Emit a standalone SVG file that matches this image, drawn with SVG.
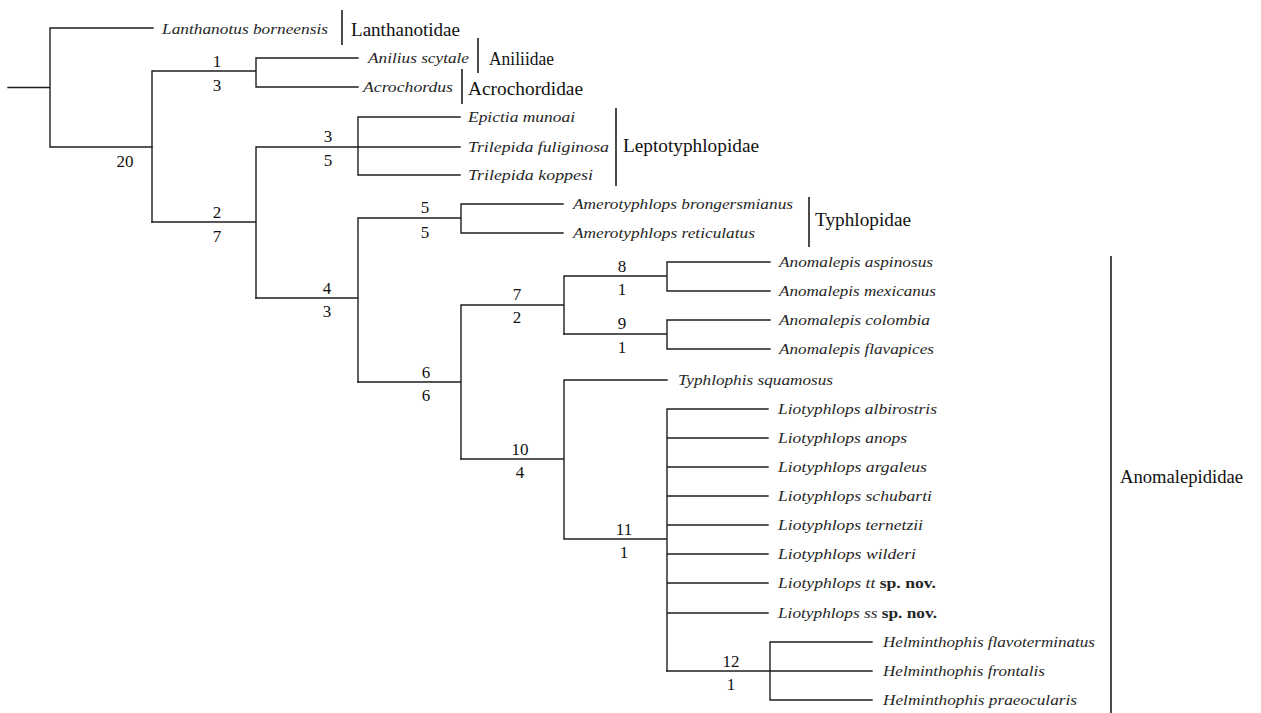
<svg xmlns="http://www.w3.org/2000/svg" width="1261" height="713" viewBox="0 0 1261 713">
<style>
.br{fill:none;stroke:#1e1e1e;stroke-width:1.4;stroke-linecap:square}
.bar{stroke:#1e1e1e;stroke-width:1.6}
.sp{font-family:"Liberation Serif","Times New Roman",serif;font-style:italic;font-size:15px;fill:#262626}
.fam{font-family:"Liberation Serif","Times New Roman",serif;font-size:18px;fill:#111}
.num{font-family:"Liberation Serif","Times New Roman",serif;font-size:17px;fill:#111;text-anchor:middle}
.nov{font-style:normal;font-weight:bold}
</style>
<rect width="1261" height="713" fill="#fff"/>
<g id="connectors" class="br">
<path d="M8,87.5H50M50,28V147M50,28H153M50,147H152"/>
<path d="M152,71V222M152,71H256M256,58V87M256,58H358M256,87H358"/>
<path d="M152,222H256M256,147V298M256,147H358M358,117V175M358,117H460M358,147H460M358,175H460"/>
<path d="M256,298H358M358,218V382M358,218H461M461,204V233M461,204H563M461,233H563"/>
<path d="M358,382H461M461,305V459M461,305H564M564,276V334M564,276H667M667,262V291M667,262H770M667,291H770"/>
<path d="M564,334H667M667,320V349M667,320H770M667,349H770"/>
<path d="M461,459H564M564,380V539M564,380H667M564,539H667M667,409V671M667,409H768M667,438H768M667,467H768M667,496H768M667,525H768M667,554H768M667,583H768M667,613H768"/>
<path d="M667,671H770M770,642V700M770,642H872M770,671H872M770,700H872"/>
</g>
<g id="support-values">
<text class="num" x="125" y="167">20</text>
<text class="num" x="217" y="67">1</text><text class="num" x="217" y="91">3</text>
<text class="num" x="217" y="218">2</text><text class="num" x="217" y="242">7</text>
<text class="num" x="328" y="142">3</text><text class="num" x="328" y="166">5</text>
<text class="num" x="327" y="294">4</text><text class="num" x="327" y="317">3</text>
<text class="num" x="425" y="213">5</text><text class="num" x="425" y="238">5</text>
<text class="num" x="426" y="378">6</text><text class="num" x="426" y="401">6</text>
<text class="num" x="517" y="300">7</text><text class="num" x="517" y="323">2</text>
<text class="num" x="622" y="272">8</text><text class="num" x="622" y="295">1</text>
<text class="num" x="622" y="329">9</text><text class="num" x="622" y="353">1</text>
<text class="num" x="520" y="455">10</text><text class="num" x="520" y="478">4</text>
<text class="num" x="624" y="535">11</text><text class="num" x="624" y="558">1</text>
<text class="num" x="731" y="667">12</text><text class="num" x="731" y="690">1</text>
</g>
<g id="taxon-lanthanotus"><text class="sp" x="162" y="34" textLength="166" lengthAdjust="spacingAndGlyphs">Lanthanotus borneensis</text></g>
<g id="taxon-anilius"><text class="sp" x="368" y="63" textLength="101" lengthAdjust="spacingAndGlyphs">Anilius scytale</text></g>
<g id="taxon-acrochordus"><text class="sp" x="363" y="92" textLength="90" lengthAdjust="spacingAndGlyphs">Acrochordus</text></g>
<g id="taxon-epictia"><text class="sp" x="468" y="122" textLength="107" lengthAdjust="spacingAndGlyphs">Epictia munoai</text></g>
<g id="taxon-trilepida-fuliginosa"><text class="sp" x="468" y="152" textLength="141" lengthAdjust="spacingAndGlyphs">Trilepida fuliginosa</text></g>
<g id="taxon-trilepida-koppesi"><text class="sp" x="468" y="180" textLength="125" lengthAdjust="spacingAndGlyphs">Trilepida koppesi</text></g>
<g id="taxon-amerotyphlops-brongersmianus"><text class="sp" x="573" y="209" textLength="220" lengthAdjust="spacingAndGlyphs">Amerotyphlops brongersmianus</text></g>
<g id="taxon-amerotyphlops-reticulatus"><text class="sp" x="573" y="238" textLength="182" lengthAdjust="spacingAndGlyphs">Amerotyphlops reticulatus</text></g>
<g id="taxon-anomalepis-aspinosus"><text class="sp" x="779" y="267" textLength="154" lengthAdjust="spacingAndGlyphs">Anomalepis aspinosus</text></g>
<g id="taxon-anomalepis-mexicanus"><text class="sp" x="779" y="296" textLength="157" lengthAdjust="spacingAndGlyphs">Anomalepis mexicanus</text></g>
<g id="taxon-anomalepis-colombia"><text class="sp" x="779" y="325" textLength="151" lengthAdjust="spacingAndGlyphs">Anomalepis colombia</text></g>
<g id="taxon-anomalepis-flavapices"><text class="sp" x="779" y="354" textLength="155" lengthAdjust="spacingAndGlyphs">Anomalepis flavapices</text></g>
<g id="taxon-typhlophis"><text class="sp" x="678" y="385" textLength="155" lengthAdjust="spacingAndGlyphs">Typhlophis squamosus</text></g>
<g id="taxon-liotyphlops-albirostris"><text class="sp" x="778" y="414" textLength="159" lengthAdjust="spacingAndGlyphs">Liotyphlops albirostris</text></g>
<g id="taxon-liotyphlops-anops"><text class="sp" x="778" y="443" textLength="129" lengthAdjust="spacingAndGlyphs">Liotyphlops anops</text></g>
<g id="taxon-liotyphlops-argaleus"><text class="sp" x="778" y="472" textLength="149" lengthAdjust="spacingAndGlyphs">Liotyphlops argaleus</text></g>
<g id="taxon-liotyphlops-schubarti"><text class="sp" x="778" y="501" textLength="154" lengthAdjust="spacingAndGlyphs">Liotyphlops schubarti</text></g>
<g id="taxon-liotyphlops-ternetzii"><text class="sp" x="778" y="530" textLength="145" lengthAdjust="spacingAndGlyphs">Liotyphlops ternetzii</text></g>
<g id="taxon-liotyphlops-wilderi"><text class="sp" x="778" y="559" textLength="138" lengthAdjust="spacingAndGlyphs">Liotyphlops wilderi</text></g>
<g id="taxon-liotyphlops-tt"><text class="sp" x="778" y="588" textLength="158" lengthAdjust="spacingAndGlyphs">Liotyphlops tt<tspan class="nov"> sp. nov.</tspan></text></g>
<g id="taxon-liotyphlops-ss"><text class="sp" x="778" y="618" textLength="159" lengthAdjust="spacingAndGlyphs">Liotyphlops ss<tspan class="nov"> sp. nov.</tspan></text></g>
<g id="taxon-helminthophis-flavoterminatus"><text class="sp" x="883" y="647" textLength="212" lengthAdjust="spacingAndGlyphs">Helminthophis flavoterminatus</text></g>
<g id="taxon-helminthophis-frontalis"><text class="sp" x="883" y="676" textLength="162" lengthAdjust="spacingAndGlyphs">Helminthophis frontalis</text></g>
<g id="taxon-helminthophis-praeocularis"><text class="sp" x="883" y="705" textLength="194" lengthAdjust="spacingAndGlyphs">Helminthophis praeocularis</text></g>
<g id="family-lanthanotidae"><line class="bar" x1="342" y1="10" x2="342" y2="45"/><text class="fam" x="351" y="36" textLength="109" lengthAdjust="spacingAndGlyphs">Lanthanotidae</text></g>
<g id="family-aniliidae"><line class="bar" x1="478" y1="38" x2="478" y2="73"/><text class="fam" x="489" y="65" textLength="65" lengthAdjust="spacingAndGlyphs">Aniliidae</text></g>
<g id="family-acrochordidae"><line class="bar" x1="462" y1="69" x2="462" y2="104"/><text class="fam" x="468" y="95" textLength="115" lengthAdjust="spacingAndGlyphs">Acrochordidae</text></g>
<g id="family-leptotyphlopidae"><line class="bar" x1="616" y1="108" x2="616" y2="186"/><text class="fam" x="623" y="152" textLength="136" lengthAdjust="spacingAndGlyphs">Leptotyphlopidae</text></g>
<g id="family-typhlopidae"><line class="bar" x1="809" y1="197" x2="809" y2="247"/><text class="fam" x="815" y="226" textLength="96" lengthAdjust="spacingAndGlyphs">Typhlopidae</text></g>
<g id="family-anomalepididae"><line class="bar" x1="1111" y1="256" x2="1111" y2="713"/><text class="fam" x="1120" y="483" textLength="123" lengthAdjust="spacingAndGlyphs">Anomalepididae</text></g>
</svg>
